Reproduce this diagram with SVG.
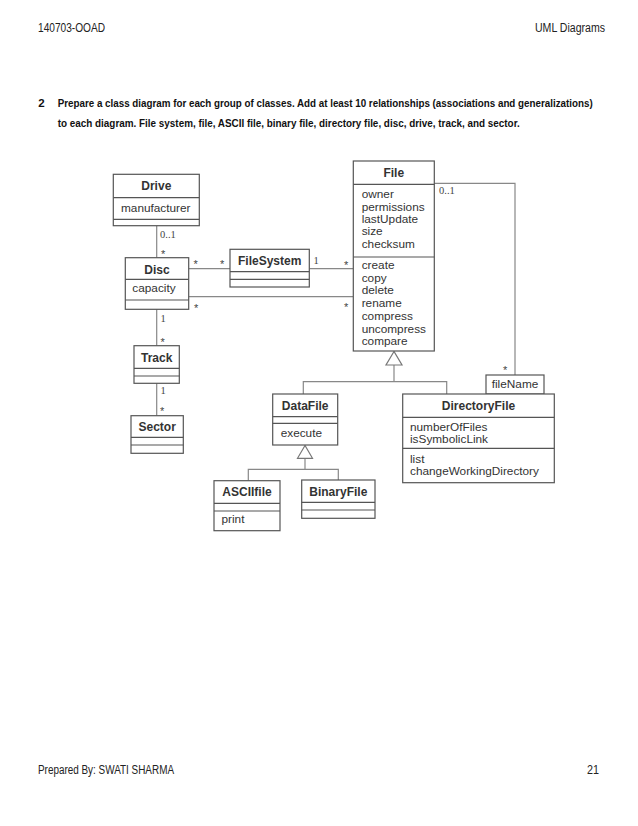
<svg xmlns="http://www.w3.org/2000/svg" width="638" height="826" viewBox="0 0 638 826">
<style>
.page{font-family:"Liberation Sans",Arial,sans-serif;fill:#222}
.q{font-family:"Liberation Sans",Arial,sans-serif;font-weight:bold;font-size:11.5px;fill:#111}
.box{fill:#fff;stroke:#555;stroke-width:1.2}
.div{stroke:#555;stroke-width:1.2}
.t{font-family:"Liberation Sans",Arial,sans-serif;font-weight:bold;font-size:12px;fill:#333;text-anchor:middle}
.a{font-family:"Liberation Sans",Arial,sans-serif;font-size:11.8px;fill:#333}
.c{fill:none;stroke:#888;stroke-width:1.2}
.m{font-family:"Liberation Serif","Times New Roman",serif;font-size:10.5px;fill:#444}
.s{font-family:"Liberation Sans",Arial,sans-serif;font-size:11px;fill:#444}
.tri{fill:#fff;stroke:#777;stroke-width:1.2}
</style>
<rect width="638" height="826" fill="#fff"/>
<g id="header">
<text class="page" x="38" y="31.5" font-size="12.5" textLength="67" lengthAdjust="spacingAndGlyphs">140703-OOAD</text>
<text class="page" x="535" y="31.5" font-size="12.5" textLength="70" lengthAdjust="spacingAndGlyphs">UML Diagrams</text>
</g>
<g id="question">
<text class="q" x="38.3" y="106.5">2</text>
<text class="q" x="57.7" y="106.5" textLength="535" lengthAdjust="spacingAndGlyphs">Prepare a class diagram for each group of classes. Add at least 10 relationships (associations and generalizations)</text>
<text class="q" x="57.7" y="127" textLength="462" lengthAdjust="spacingAndGlyphs">to each diagram. File system, file, ASCII file, binary file, directory file, disc, drive, track, and sector.</text>
</g>
<g id="connectors">
<line class="c" x1="156.7" y1="225.7" x2="156.7" y2="257.7"/>
<line class="c" x1="188.7" y1="268.7" x2="230" y2="268.7"/>
<line class="c" x1="309.3" y1="268.7" x2="353.3" y2="268.7"/>
<line class="c" x1="188.7" y1="296.7" x2="353.3" y2="296.7"/>
<line class="c" x1="156.7" y1="309.3" x2="156.7" y2="345.7"/>
<line class="c" x1="156.7" y1="383.3" x2="156.7" y2="415.7"/>
<polyline class="c" points="434.3,183.3 515,183.3 515,375"/>
<polyline class="c" points="394,365 394,381.7"/>
<polyline class="c" points="303.3,394 303.3,381.7 446.7,381.7 446.7,394"/>
<polygon class="tri" points="394,351.5 386,365 402,365"/>
<polyline class="c" points="305,458.3 305,469.3"/>
<polyline class="c" points="248.3,480.7 248.3,469.3 338.3,469.3 338.3,480"/>
<polygon class="tri" points="305,445.5 297.5,458.3 312.5,458.3"/>
<text class="m" x="160" y="237.5">0..1</text>
<text class="s" x="161" y="258">*</text>
<text class="s" x="193.5" y="268">*</text>
<text class="s" x="220" y="268">*</text>
<text class="m" x="313.5" y="264">1</text>
<text class="s" x="344" y="268.5">*</text>
<text class="s" x="194" y="312">*</text>
<text class="s" x="344" y="311">*</text>
<text class="m" x="160.5" y="321.5">1</text>
<text class="s" x="160.5" y="345.5">*</text>
<text class="m" x="160.5" y="394">1</text>
<text class="s" x="160" y="415">*</text>
<text class="m" x="439" y="194">0..1</text>
<text class="s" x="503" y="374">*</text>
</g>
<g id="drive">
<rect class="box" x="113.3" y="174.3" width="86" height="51.4"/>
<line class="div" x1="113.3" y1="197.7" x2="199.3" y2="197.7"/>
<line class="div" x1="113.3" y1="219.3" x2="199.3" y2="219.3"/>
<text class="t" x="156.3" y="190">Drive</text>
<text class="a" x="121" y="211.7">manufacturer</text>
</g>
<g id="disc">
<rect class="box" x="125.3" y="257.7" width="63.4" height="51.6"/>
<line class="div" x1="125.3" y1="279.3" x2="188.7" y2="279.3"/>
<line class="div" x1="125.3" y1="300" x2="188.7" y2="300"/>
<text class="t" x="157" y="274">Disc</text>
<text class="a" x="132.3" y="292">capacity</text>
</g>
<g id="filesystem">
<rect class="box" x="230" y="249.3" width="79.3" height="37.7"/>
<line class="div" x1="230" y1="271.7" x2="309.3" y2="271.7"/>
<line class="div" x1="230" y1="279.3" x2="309.3" y2="279.3"/>
<text class="t" x="269.7" y="265">FileSystem</text>
</g>
<g id="file">
<rect class="box" x="353.3" y="161" width="81" height="190"/>
<line class="div" x1="353.3" y1="184.3" x2="434.3" y2="184.3"/>
<line class="div" x1="353.3" y1="257" x2="434.3" y2="257"/>
<text class="t" x="393.8" y="176.5">File</text>
<text class="a" x="361.7" y="198.3">owner</text>
<text class="a" x="361.7" y="210.6">permissions</text>
<text class="a" x="361.7" y="222.9">lastUpdate</text>
<text class="a" x="361.7" y="235.2">size</text>
<text class="a" x="361.7" y="247.5">checksum</text>
<text class="a" x="361.7" y="269">create</text>
<text class="a" x="361.7" y="281.7">copy</text>
<text class="a" x="361.7" y="294.4">delete</text>
<text class="a" x="361.7" y="307.1">rename</text>
<text class="a" x="361.7" y="319.8">compress</text>
<text class="a" x="361.7" y="332.5">uncompress</text>
<text class="a" x="361.7" y="345.2">compare</text>
</g>
<g id="track">
<rect class="box" x="134" y="345.7" width="45.3" height="37.6"/>
<line class="div" x1="134" y1="368.3" x2="179.3" y2="368.3"/>
<line class="div" x1="134" y1="376" x2="179.3" y2="376"/>
<text class="t" x="156.7" y="361.5">Track</text>
</g>
<g id="sector">
<rect class="box" x="131" y="415.7" width="52.3" height="37.6"/>
<line class="div" x1="131" y1="437.3" x2="183.3" y2="437.3"/>
<line class="div" x1="131" y1="445" x2="183.3" y2="445"/>
<text class="t" x="157.2" y="430.5">Sector</text>
</g>
<g id="qualifier">
<rect class="box" x="486" y="375" width="58" height="19"/>
<text class="a" x="515" y="388" text-anchor="middle" font-size="12.5">fileName</text>
</g>
<g id="datafile">
<rect class="box" x="272.7" y="394" width="65" height="51"/>
<line class="div" x1="272.7" y1="416.7" x2="337.7" y2="416.7"/>
<line class="div" x1="272.7" y1="423.3" x2="337.7" y2="423.3"/>
<text class="t" x="305.2" y="410">DataFile</text>
<text class="a" x="280.7" y="437">execute</text>
</g>
<g id="directoryfile">
<rect class="box" x="402.7" y="394" width="151.6" height="88.7"/>
<line class="div" x1="402.7" y1="417.3" x2="554.3" y2="417.3"/>
<line class="div" x1="402.7" y1="448.3" x2="554.3" y2="448.3"/>
<text class="t" x="478.5" y="409.5">DirectoryFile</text>
<text class="a" x="410" y="431">numberOfFiles</text>
<text class="a" x="410" y="442.5">isSymbolicLink</text>
<text class="a" x="410" y="463">list</text>
<text class="a" x="410" y="474.5">changeWorkingDirectory</text>
</g>
<g id="asciifile">
<rect class="box" x="214" y="480.7" width="66" height="50"/>
<line class="div" x1="214" y1="503.3" x2="280" y2="503.3"/>
<line class="div" x1="214" y1="511" x2="280" y2="511"/>
<text class="t" x="247" y="496">ASCIIfile</text>
<text class="a" x="221.5" y="523">print</text>
</g>
<g id="binaryfile">
<rect class="box" x="301.7" y="480" width="73.3" height="38.3"/>
<line class="div" x1="301.7" y1="502.3" x2="375" y2="502.3"/>
<line class="div" x1="301.7" y1="510" x2="375" y2="510"/>
<text class="t" x="338.3" y="496">BinaryFile</text>
</g>
<g id="footer">
<text class="page" x="38" y="773.5" font-size="12.5" textLength="136" lengthAdjust="spacingAndGlyphs">Prepared By: SWATI SHARMA</text>
<text class="page" x="587" y="773.5" font-size="12" textLength="12" lengthAdjust="spacingAndGlyphs">21</text>
</g>
</svg>
